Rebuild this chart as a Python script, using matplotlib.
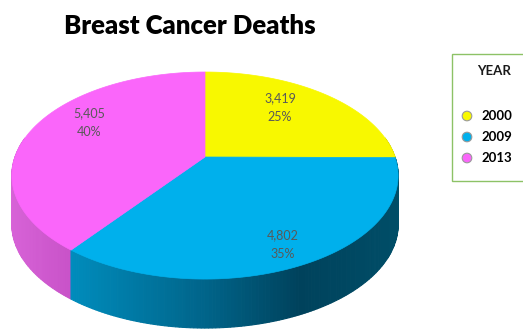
import numpy as np
import matplotlib
matplotlib.use("Agg")
import matplotlib.pyplot as plt
from matplotlib.patches import Polygon, Rectangle, Circle

# ---- data ----
years = ["2000", "2009", "2013"]
deaths = [3419, 4802, 5405]
title = "Breast Cancer Deaths"
legend_title = "YEAR"

# ---- style / layout ----
top_colors = ["#f8f800", "#00b0ec", "#fa66fa"]
side_ramps = [
    [(0, (200, 200, 0)), (1, (150, 150, 0))],
    [(72, (0, 140, 188)), (200, (0, 102, 140)), (300, (0, 66, 92)), (400, (0, 78, 104))],
    [(0, (218, 102, 218)), (80, (198, 80, 198))],
]
W, H, DPI = 523, 329, 100
CX, CY = 205.0, 157.0   # pie centre in pixels
RX, D, K = 190.0, 100.2, 0.179  # horizontal radius, depth scale, perspective
THICK = 49.0
label_pos = [(280, 98), (283, 235), (89, 113)]
font = ["Lato", "DejaVu Sans"]

fig = plt.figure(figsize=(W / DPI, H / DPI), dpi=DPI)
ax = fig.add_axes([0, 0, 1, 1])
ax.set_xlim(0, W)
ax.set_ylim(H, 0)
ax.axis("off")


def proj(r, th):
    u = r * np.sin(th)
    v = r * np.cos(th)
    s = 1.0 / (1.0 + K * v)
    return CX + RX * u * s, CY - D * v * s


def ramp_color(ramp, x):
    xs = [p[0] for p in ramp]
    cols = np.array([p[1] for p in ramp], float)
    if len(xs) == 2 and xs[1] == 1:
        return tuple(cols[0] / 255)
    c = [np.interp(x, xs, cols[:, i]) for i in range(3)]
    return tuple(np.array(c) / 255)


total = float(sum(deaths))
fracs = [d / total for d in deaths]
bounds = np.concatenate([[0], np.cumsum(fracs)]) * 2 * np.pi

# side wall strips, back to front
strips = []
for i in range(len(deaths)):
    a0, a1 = bounds[i], bounds[i + 1]
    n = max(4, int((a1 - a0) / (2 * np.pi) * 400))
    ths = np.linspace(a0, a1, n + 1)
    for j in range(n):
        t0, t1 = ths[j], ths[j + 1]
        x0, y0 = proj(1, t0)
        x1, y1 = proj(1, t1)
        depth = np.cos((t0 + t1) / 2)
        strips.append((depth, i, [(x0, y0), (x1, y1), (x1, y1 + THICK), (x0, y0 + THICK)], (x0 + x1) / 2))
strips.sort(key=lambda s: -s[0])
for depth, i, pts, xm in strips:
    if depth > 0.2:
        continue
    c = ramp_color(side_ramps[i], xm)
    ax.add_patch(Polygon(pts, closed=True, facecolor=c, edgecolor=c, lw=0.8))

# top faces
for i in range(len(deaths)):
    a0, a1 = bounds[i], bounds[i + 1]
    ths = np.linspace(a0, a1, 200)
    pts = [(CX, CY)] + [proj(1, t) for t in ths]
    ax.add_patch(Polygon(pts, closed=True, facecolor=top_colors[i], edgecolor=top_colors[i], lw=0.5))

# data labels
for i in range(len(deaths)):
    x, y = label_pos[i]
    pct = int(round(100 * fracs[i]))
    ax.text(x, y, f"{deaths[i]:,}", ha="center", va="center", fontsize=9, color="#595959", family=font)
    ax.text(x, y + 19, f"{pct}%", ha="center", va="center", fontsize=9, color="#595959", family=font)

# title
ax.text(190, 26, title, ha="center", va="center", fontsize=18.5, fontweight="heavy", color="black", family=font)

# legend
ax.add_patch(Rectangle((452, 54), 90, 127, facecolor="white", edgecolor="#8dc266", lw=1.0))
ax.text(494, 71, legend_title, ha="center", va="center", fontsize=9.5, fontweight="bold", color="#1a1a1a", family=font)
for i, yr in enumerate(years):
    yy = 116 + 21 * i
    ax.add_patch(Circle((467, yy), 4.8, facecolor=top_colors[i], edgecolor="#9a9a9a", lw=0.8))
    ax.text(481, yy, yr, ha="left", va="center", fontsize=9.5, fontweight="bold", color="black", family=font)

fig.savefig("out.png", dpi=DPI)
